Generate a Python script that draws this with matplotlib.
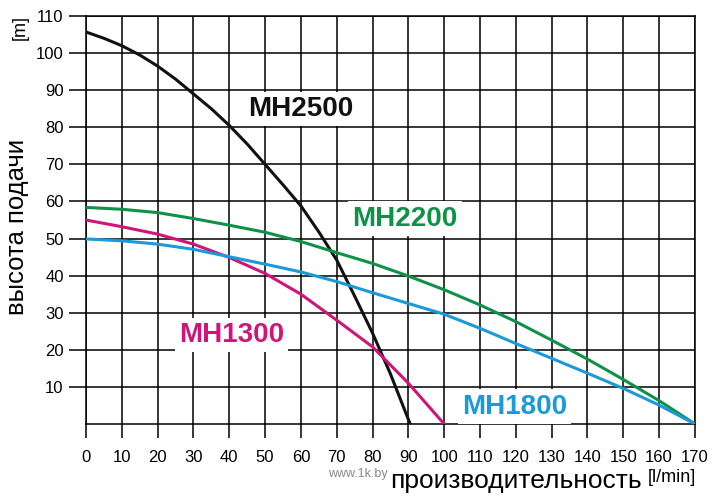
import matplotlib
matplotlib.use("Agg")
import matplotlib.pyplot as plt

plt.rcParams['font.family'] = ['Liberation Sans', 'DejaVu Sans']

# ---- data ----
x_mh2500 = [0, 5, 10, 15, 20, 25, 30, 35, 40, 45, 50, 55, 60, 65, 70, 75, 80, 85, 90.5]
y_mh2500 = [105.7, 104.0, 102.0, 99.5, 96.5, 93.0, 89.0, 85.0, 80.5, 75.5, 70.0, 64.5, 58.8, 51.8, 44.2, 34.5, 24.5, 13.5, 0]

x_mh2200 = [0, 10, 20, 30, 40, 50, 60, 70, 80, 90, 100, 110, 120, 130, 140, 150, 160, 170]
y_mh2200 = [58.4, 57.9, 57.0, 55.4, 53.6, 51.7, 49.2, 46.2, 43.3, 39.9, 36.2, 32.1, 27.6, 22.6, 17.5, 12.0, 6.3, 0]

x_mh1300 = [0, 10, 20, 30, 40, 50, 60, 70, 80, 90, 100]
y_mh1300 = [55.0, 53.2, 51.2, 48.5, 44.9, 40.6, 35.0, 28.0, 20.8, 11.0, 0]

x_mh1800 = [0, 10, 20, 30, 40, 50, 60, 70, 80, 90, 100, 110, 120, 130, 140, 150, 160, 170]
y_mh1800 = [49.9, 49.4, 48.5, 47.1, 45.1, 43.1, 41.0, 38.4, 35.4, 32.5, 29.6, 25.8, 21.7, 17.7, 13.7, 9.6, 5.1, 0]

x_ticks = list(range(0, 171, 10))
y_ticks = list(range(10, 111, 10))

series_names = ["MH2500", "MH2200", "MH1300", "MH1800"]
colors = ["#111111", "#0f9148", "#d0157a", "#1a9ad8"]

fig = plt.figure(figsize=(7.2, 5.04), dpi=100)
ax = fig.add_axes([0.1194, 0.1587, 0.8458, 0.8095])

ax.set_xlim(0, 170)
ax.set_ylim(0, 110)
ax.set_xticks(x_ticks)
ax.set_yticks(y_ticks)
ax.grid(True, color='black', linewidth=1.1)
ax.set_axisbelow(True)
for s in ax.spines.values():
    s.set_color('black')
    s.set_linewidth(1.1)

ax.tick_params(axis='y', direction='out', length=12, width=1.1, pad=4, labelsize=12)
ax.tick_params(axis='x', direction='out', length=10, width=1.1, pad=9, labelsize=12)

lw = 2.2
for xs, ys, c in [(x_mh2500, y_mh2500, colors[0]), (x_mh2200, y_mh2200, colors[1]),
                  (x_mh1300, y_mh1300, colors[2]), (x_mh1800, y_mh1800, colors[3])]:
    ax.plot(xs, ys, color=c, lw=lw, zorder=3, solid_joinstyle='round')

label_pos = [(59.9, 85.0), (89.0, 55.4), (40.7, 24.0), (119.7, 4.7)]
for name, c, (lx, ly) in zip(series_names, colors, label_pos):
    ax.text(lx, ly, name, color=c, fontsize=20, fontweight='bold',
            ha='center', va='center', zorder=4,
            bbox=dict(boxstyle='square,pad=0.15', fc='white', ec='none'))

fig.text(0.0243, 0.55, "высота подачи", rotation=90, fontsize=18.5,
         ha='center', va='center')
fig.text(0.0285, 0.945, "[m]", rotation=90, fontsize=13, ha='center', va='center')
fig.text(0.7167, 0.045, "производительность", fontsize=19, ha='center', va='center')
fig.text(0.899, 0.052, "[l/min]", fontsize=13, ha='left', va='center')
fig.text(0.456, 0.06, "www.1k.by", fontsize=9, color='#888888', ha='left', va='center')

fig.savefig("out.png", dpi=100)
